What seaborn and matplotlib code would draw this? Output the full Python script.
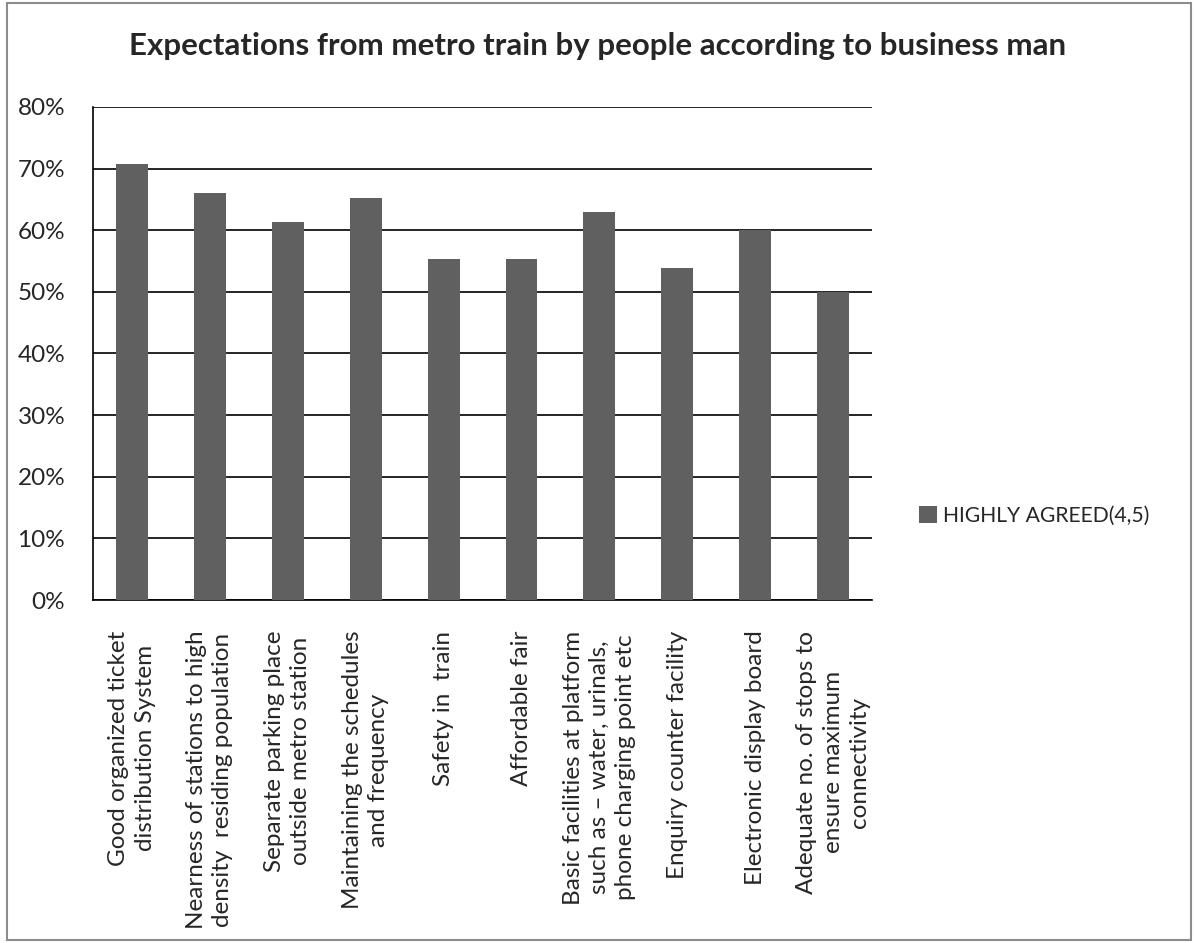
import matplotlib
matplotlib.use("Agg")
import matplotlib.pyplot as plt
from matplotlib.patches import Rectangle
from matplotlib.ticker import FixedLocator, PercentFormatter
import seaborn as sns
import pandas as pd

categories = [
    "Good organized ticket\ndistribution System",
    "Nearness of stations to high\ndensity  residing population",
    "Separate parking place\noutside metro station",
    "Maintaining the schedules\nand frequency",
    "Safety in  train",
    "Affordable fair",
    "Basic facilities at platform\nsuch as \u2013 water, urinals,\nphone charging point etc",
    "Enquiry counter facility",
    "Electronic display board",
    "Adequate no. of stops to\nensure maximum\nconnectivity",
]
highly_agreed = [0.707, 0.661, 0.614, 0.653, 0.554, 0.554, 0.630, 0.538, 0.601, 0.500]
series_name = "HIGHLY AGREED(4,5)"
title = "Expectations from metro train by people according to business man"
y_ticks = [0.0, 0.1, 0.2, 0.3, 0.4, 0.5, 0.6, 0.7, 0.8]

sns.set_theme(style="white")
plt.rcParams["font.family"] = ["Lato", "DejaVu Sans"]

df = pd.DataFrame({"category": categories, "value": highly_agreed, "series": series_name})

fig = plt.figure(figsize=(11.96, 9.43), dpi=100)
ax = fig.add_axes([0.0778, 0.3637, 0.6513, 0.5229])

sns.barplot(data=df, x="category", y="value", hue="series", palette=["#606060"],
            width=0.41, saturation=1, linewidth=0, edgecolor="none", ax=ax, zorder=3)

ax.set_ylim(0, 0.8)
ax.set_xlim(-0.5, len(categories) - 0.5)
ax.yaxis.set_major_locator(FixedLocator(y_ticks))
ax.yaxis.set_major_formatter(PercentFormatter(1.0, decimals=0))
ax.grid(axis="y", color="black", linewidth=1.2, zorder=0)
ax.set_axisbelow(True)

for side in ("top", "right"):
    ax.spines[side].set_visible(False)
for side in ("left", "bottom"):
    ax.spines[side].set_color("black")
    ax.spines[side].set_linewidth(1.2)

ax.set_xlabel("")
ax.set_ylabel("")

# category tick marks sit on the boundaries between categories
ax.set_xticks([i - 0.5 for i in range(len(categories) + 1)], minor=True)
ax.tick_params(axis="x", which="minor", length=6, width=1.2, color="black", direction="out")
ax.tick_params(axis="x", which="major", length=0, pad=22)
ax.tick_params(axis="y", which="major", length=8, width=1.2, color="black",
               direction="out", labelsize=17.5, pad=12)
ax.set_xticks(range(len(categories)))
ax.set_xticklabels(categories, rotation=90, ha="center", va="top",
                   multialignment="center", fontsize=17.5, linespacing=1.3)

ax.legend(handles=ax.get_legend_handles_labels()[0], labels=[series_name],
          loc="center left", bbox_to_anchor=(1.036, 0.17), frameon=False,
          fontsize=15.2, handlelength=0.85, handleheight=0.85, handletextpad=0.3)

fig.suptitle(title, x=0.5, y=0.966, fontsize=22.5, fontweight="bold")

fig.patches.append(Rectangle((0.006, 0.003), 0.99, 0.994, transform=fig.transFigure,
                             fill=False, edgecolor="#8c8c8c", linewidth=1.5))

fig.savefig("out.png", dpi=100, facecolor="white")
